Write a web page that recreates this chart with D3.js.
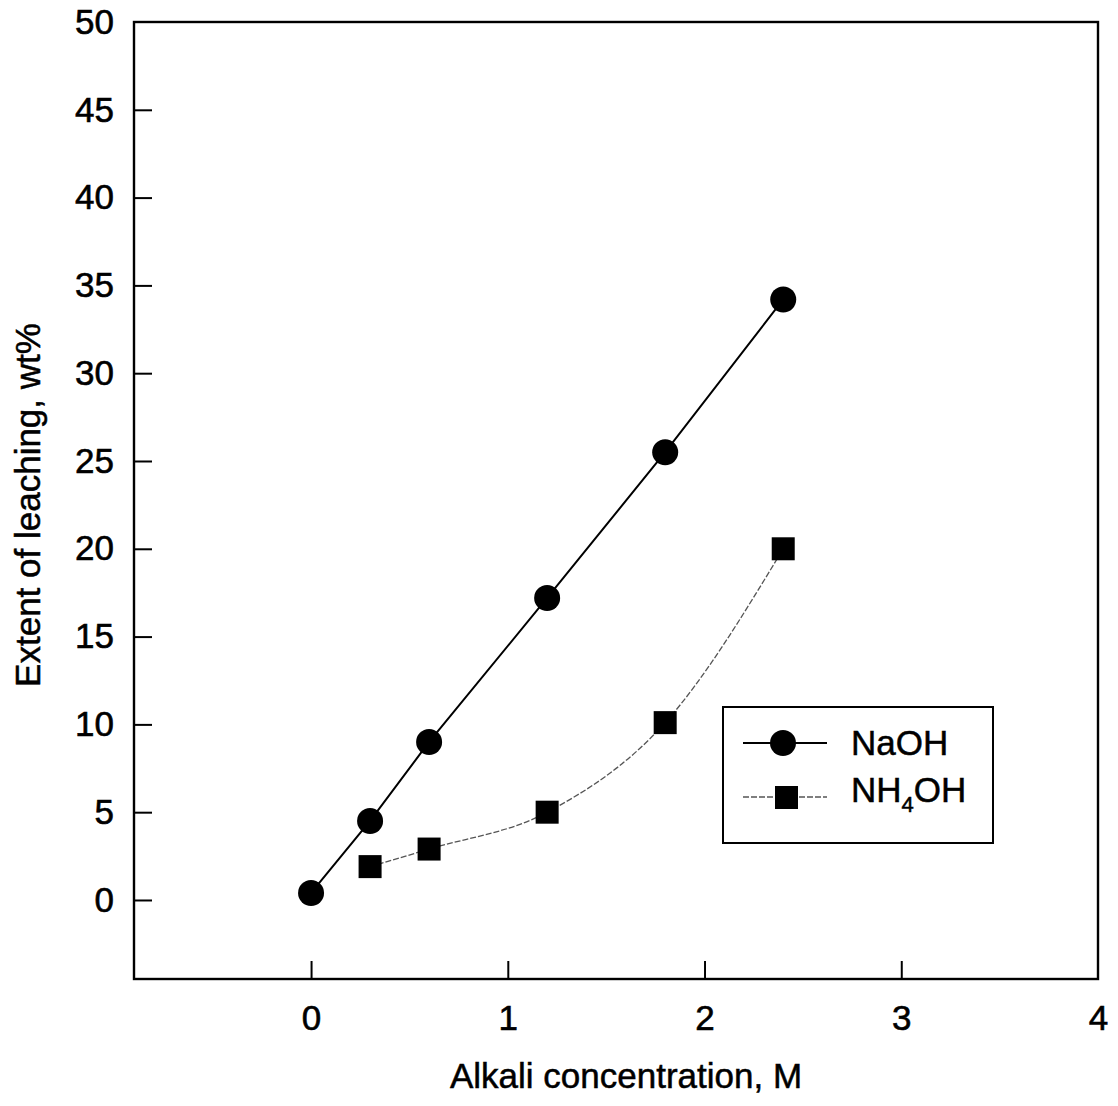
<!DOCTYPE html>
<html><head><meta charset="utf-8">
<script src="https://cdn.jsdelivr.net/npm/d3@7"></script>
<style>body{margin:0;background:#fff}svg{display:block}text{font-family:"Liberation Sans",Arial,sans-serif;fill:#000}</style>
</head><body><svg id="c" width="1118" height="1106"></svg>
<script>
const naohX = [0, 0.3, 0.6, 1.2, 1.8, 2.4];
const naohY = [0.4, 4.5, 9.0, 17.2, 25.5, 34.2];
const nh4X = [0.3, 0.6, 1.2, 1.8, 2.4];
const nh4Y = [1.9, 2.9, 5.0, 10.1, 20.0];
const xTicks = [0, 1, 2, 3, 4];
const yTicks = [0, 5, 10, 15, 20, 25, 30, 35, 40, 45, 50];
const seriesNames = ["NaOH", "NH4OH"];

const svg = d3.select("#c");
const L = 134, R = 1098, T = 22, B = 979;
const x = d3.scaleLinear().domain([-0.9, 4]).range([L, R]);
const y = d3.scaleLinear().domain([-4.5, 50]).range([B, T]);

// frame
svg.append("rect").attr("x", L).attr("y", T).attr("width", R - L).attr("height", B - T)
  .attr("fill", "none").attr("stroke", "#000").attr("stroke-width", 2.4);

// axes with inward ticks
const yAx = svg.append("g").attr("transform", `translate(${L},0)`)
  .call(d3.axisLeft(y).tickValues(yTicks).tickSize(-18).tickPadding(20).tickFormat(d3.format("d")));
const xAx = svg.append("g").attr("transform", `translate(0,${B})`)
  .call(d3.axisBottom(x).tickValues(xTicks).tickSize(-18).tickPadding(26).tickFormat(d3.format("d")));
[yAx, xAx].forEach(g => {
  g.select(".domain").remove();
  g.selectAll(".tick line").attr("stroke", "#000").attr("stroke-width", 2);
  g.selectAll(".tick text").attr("font-size", 35).attr("font-family", "Liberation Sans, Arial, sans-serif")
    .attr("fill", "#000").attr("stroke", "#000").attr("stroke-width", 0.6);
});
yAx.selectAll(".tick").filter(d => d === 50).select("line").remove();
xAx.selectAll(".tick").filter(d => d === 4).select("line").remove();

// axis titles
svg.append("text").attr("x", 626).attr("y", 1088).attr("text-anchor", "middle")
  .attr("font-size", 35).attr("stroke", "#000").attr("stroke-width", 0.5).text("Alkali concentration, M");
svg.append("text").attr("transform", "translate(40,505) rotate(-90)").attr("text-anchor", "middle")
  .attr("font-size", 35).attr("stroke", "#000").attr("stroke-width", 0.5).text("Extent of leaching, wt%");

// series
const naoh = naohX.map((v, i) => [v, naohY[i]]);
const nh4 = nh4X.map((v, i) => [v, nh4Y[i]]);
svg.append("path").attr("d", d3.line().x(d => x(d[0])).y(d => y(d[1]))(naoh))
  .attr("fill", "none").attr("stroke", "#000").attr("stroke-width", 2);
svg.append("path").attr("d", d3.line().curve(d3.curveMonotoneX).x(d => x(d[0])).y(d => y(d[1]))(nh4))
  .attr("fill", "none").attr("stroke", "#555").attr("stroke-width", 1.3).attr("stroke-dasharray", "6,2");
svg.selectAll(".c").data(naoh).join("circle").attr("cx", d => x(d[0])).attr("cy", d => y(d[1]))
  .attr("r", 13).attr("fill", "#000");
svg.selectAll(".s").data(nh4).join("rect").attr("x", d => x(d[0]) - 11.5).attr("y", d => y(d[1]) - 11.5)
  .attr("width", 23).attr("height", 23).attr("fill", "#000");

// legend
const lg = svg.append("g");
lg.append("rect").attr("x", 723).attr("y", 707).attr("width", 270).attr("height", 136)
  .attr("fill", "#fff").attr("stroke", "#000").attr("stroke-width", 2);
lg.append("line").attr("x1", 743).attr("x2", 827).attr("y1", 743).attr("y2", 743).attr("stroke", "#000").attr("stroke-width", 2);
lg.append("circle").attr("cx", 783).attr("cy", 743).attr("r", 13).attr("fill", "#000");
lg.append("line").attr("x1", 743).attr("x2", 827).attr("y1", 797).attr("y2", 797).attr("stroke", "#555").attr("stroke-width", 1.3).attr("stroke-dasharray", "6,2");
lg.append("rect").attr("x", 775).attr("y", 786).attr("width", 23).attr("height", 23).attr("fill", "#000");
lg.append("text").attr("x", 851).attr("y", 755).attr("font-size", 35).attr("stroke", "#000").attr("stroke-width", 0.5).text(seriesNames[0]);
const t2 = lg.append("text").attr("x", 851).attr("y", 802).attr("font-size", 35).attr("stroke", "#000").attr("stroke-width", 0.5);
t2.append("tspan").text("NH");
t2.append("tspan").attr("font-size", 22).attr("dy", 10).text("4");
t2.append("tspan").attr("dy", -10).text("OH");
</script></body></html>
